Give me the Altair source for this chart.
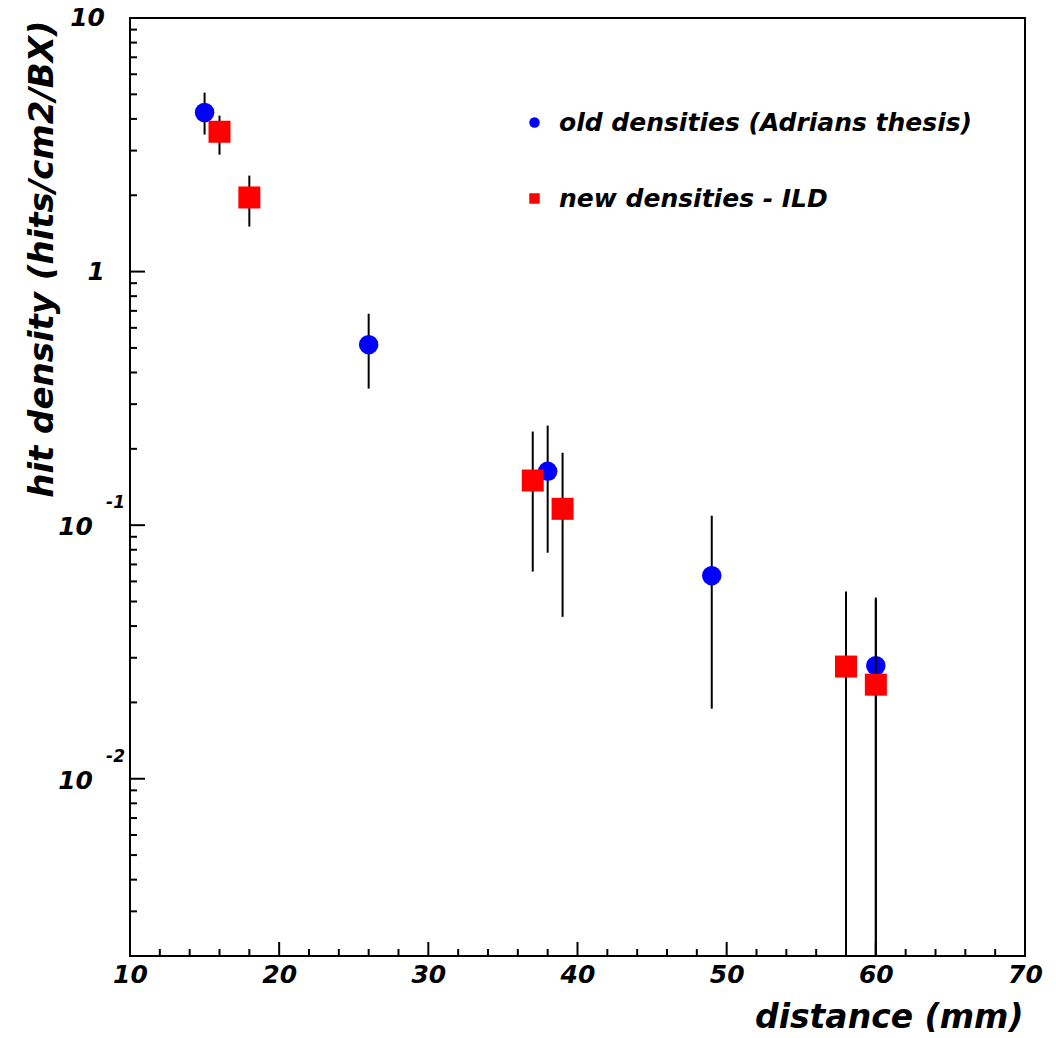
import altair as alt
import pandas as pd

# ---- data ----
old_label = "old densities (Adrians thesis)"
new_label = "new densities - ILD"

old_x = [15, 26, 38, 49, 60]
old_y = [4.24, 0.515, 0.163, 0.0632, 0.0279]
old_hi = [5.08, 0.682, 0.247, 0.109, 0.0518]
old_lo = [3.47, 0.3455, 0.0779, 0.0189, 0.001]

new_x = [16, 18, 37, 39, 58, 60]
new_y = [3.56, 1.96, 0.150, 0.116, 0.0277, 0.0235]
new_hi = [4.12, 2.39, 0.234, 0.193, 0.0547, 0.0510]
new_lo = [2.89, 1.505, 0.0656, 0.0435, 0.001, 0.001]

x_major = [10, 20, 30, 40, 50, 60, 70]
x_minor = [12, 14, 16, 18, 22, 24, 26, 28, 32, 34, 36, 38, 42, 44, 46, 48,
           52, 54, 56, 58, 62, 64, 66, 68]
y_major = [0.01, 0.1, 1, 10]
y_minor = [m * d for d in [0.001, 0.01, 0.1, 1] for m in range(2, 10) if m * d >= 0.002]
y_plain_vals = [10, 1]
y_plain_text = ["10", "1"]
y_exp_vals = [0.1, 0.01]
y_exp_base = ["10", "10"]
y_exp_text = ["-1", "-2"]

W, H = 895, 938
FONT = "DejaVu Sans"

old_df = pd.DataFrame({"x": old_x, "y": old_y, "hi": old_hi, "lo": old_lo, "s": old_label})
new_df = pd.DataFrame({"x": new_x, "y": new_y, "hi": new_hi, "lo": new_lo, "s": new_label})

xs = alt.Scale(domain=[10, 70], nice=False, zero=False)
ys = alt.Scale(type="log", domain=[0.002, 10], nice=False)

leg = alt.Legend(title=None, orient="none", legendX=392, legendY=92,
                 labelFont=FONT, labelFontSize=25, labelFontStyle="italic",
                 labelFontWeight="bold", labelColor="black", labelLimit=0,
                 symbolSize=110, symbolStrokeWidth=0, labelOffset=12,
                 rowPadding=50)
color = alt.Color("s:N", scale=alt.Scale(domain=[old_label, new_label], range=["#0000ff", "#ff0000"]),
                  legend=leg)
shape = alt.Shape("s:N", scale=alt.Scale(domain=[old_label, new_label], range=["circle", "square"]),
                  legend=leg)

xaxis = alt.Axis(values=x_major, domain=False, ticks=False, grid=False, labelFont=FONT,
                 labelFontSize=25, labelFontStyle="italic", labelFontWeight="bold",
                 labelPadding=6, labelFlush=False, labelColor="black",
                 title="distance (mm)", titleFont=FONT, titleFontSize=33,
                 titleFontStyle="italic", titleFontWeight="bold", titleAlign="right",
                 titleAnchor="end", titleX=W - 2, titleY=71, titleBaseline="alphabetic",
                 titleColor="black")
yaxis = alt.Axis(values=y_major, domain=False, ticks=False, grid=False, labels=False,
                 title="hit density (hits/cm2/BX)", titleFont=FONT, titleFontSize=34,
                 titleFontStyle="italic", titleFontWeight="bold", titleAngle=270,
                 titleAlign="right", titleBaseline="middle", titleX=-88, titleY=2,
                 titleColor="black")

def err(df):
    return alt.Chart(df).mark_rule(color="black", strokeWidth=2, clip=True).encode(
        x=alt.X("x:Q", scale=xs, axis=xaxis), y=alt.Y("lo:Q", scale=ys, axis=yaxis), y2="hi:Q")

def pts(df, size):
    return alt.Chart(df).mark_point(filled=True, opacity=1, size=size, strokeWidth=0).encode(
        x=alt.X("x:Q", scale=xs), y=alt.Y("y:Q", scale=ys), color=color, shape=shape)

# ticks drawn inward
ymaj = alt.Chart(pd.DataFrame({"v": y_major})).mark_rule(color="black", strokeWidth=2).encode(
    y=alt.Y("v:Q", scale=ys), x=alt.value(0), x2=alt.value(15))
ymin = alt.Chart(pd.DataFrame({"v": y_minor})).mark_rule(color="black", strokeWidth=2).encode(
    y=alt.Y("v:Q", scale=ys), x=alt.value(0), x2=alt.value(7))
xmaj = alt.Chart(pd.DataFrame({"v": x_major})).mark_rule(color="black", strokeWidth=2).encode(
    x=alt.X("v:Q", scale=xs), y=alt.value(H), y2=alt.value(H - 14))
xmin = alt.Chart(pd.DataFrame({"v": x_minor})).mark_rule(color="black", strokeWidth=2).encode(
    x=alt.X("v:Q", scale=xs), y=alt.value(H), y2=alt.value(H - 7))

lab_plain = alt.Chart(pd.DataFrame({"v": y_plain_vals, "t": y_plain_text})).mark_text(
    align="right", baseline="middle", font=FONT, fontSize=25, fontStyle="italic",
    fontWeight="bold", color="black").encode(
    y=alt.Y("v:Q", scale=ys), x=alt.value(-25), text="t:N")
lab_base = alt.Chart(pd.DataFrame({"v": y_exp_vals, "t": y_exp_base})).mark_text(
    align="right", baseline="middle", font=FONT, fontSize=25, fontStyle="italic",
    fontWeight="bold", color="black", dy=2).encode(
    y=alt.Y("v:Q", scale=ys), x=alt.value(-37), text="t:N")
lab_exp = alt.Chart(pd.DataFrame({"v": y_exp_vals, "t": y_exp_text})).mark_text(
    align="right", baseline="middle", font=FONT, fontSize=17, fontStyle="italic",
    fontWeight="bold", color="black", dy=-22).encode(
    y=alt.Y("v:Q", scale=ys), x=alt.value(-5), text="t:N")

chart = alt.layer(
    err(old_df), pts(old_df, 380), err(new_df), pts(new_df, 484),
    ymaj, ymin, xmaj, xmin, lab_plain, lab_base, lab_exp
).properties(
    width=W, height=H,
    autosize=alt.AutoSizeParams(type="none"),
    padding={"left": 130, "top": 18, "right": 31, "bottom": 82},
    background="white"
).configure_view(stroke="black", strokeWidth=2)

chart.save("out.html", embed_options={"renderer": "svg", "actions": False})
